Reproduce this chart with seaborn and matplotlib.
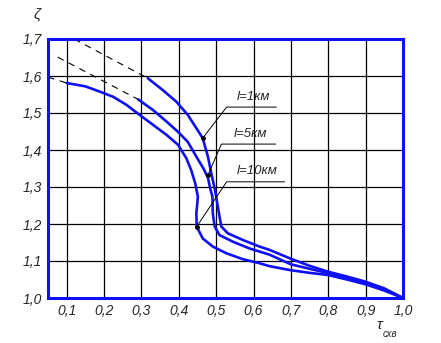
import numpy as np
import pandas as pd
import matplotlib
matplotlib.use("Agg")
import matplotlib.pyplot as plt
import seaborn as sns

# Relative radiation curves, zeta vs tau_схв, for three line lengths
labels = ["l=1км", "l=5км", "l=10км"]

tau_1 = [0.317, 0.357, 0.393, 0.424, 0.447, 0.464, 0.478, 0.487, 0.496, 0.500,
         0.509, 0.514, 0.531, 0.571, 0.616, 0.643, 0.700, 0.750, 0.800, 0.850,
         0.900, 0.950, 1.000]
zeta_1 = [1.594, 1.562, 1.531, 1.495, 1.459, 1.432, 1.382, 1.337, 1.296, 1.274,
          1.220, 1.193, 1.175, 1.157, 1.139, 1.130, 1.106, 1.087, 1.071, 1.058,
          1.044, 1.026, 1.000]

tau_5 = [0.291, 0.331, 0.367, 0.398, 0.424, 0.447, 0.466, 0.478, 0.484, 0.490,
         0.491, 0.496, 0.509, 0.545, 0.589, 0.643, 0.700, 0.750, 0.800, 0.850,
         0.900, 0.950, 1.000]
zeta_5 = [1.537, 1.508, 1.477, 1.449, 1.422, 1.382, 1.350, 1.325, 1.296, 1.274,
          1.229, 1.193, 1.170, 1.152, 1.134, 1.117, 1.091, 1.079, 1.067, 1.054,
          1.040, 1.023, 1.000]

tau_10 = [0.100, 0.150, 0.188, 0.224, 0.260, 0.295, 0.331, 0.367, 0.398, 0.420,
          0.433, 0.444, 0.451, 0.449, 0.447, 0.448, 0.464, 0.491, 0.527, 0.571,
          0.616, 0.643, 0.700, 0.750, 0.800, 0.850, 0.900, 0.950, 1.000]
zeta_10 = [1.581, 1.572, 1.558, 1.544, 1.522, 1.495, 1.468, 1.441, 1.414, 1.378,
           1.346, 1.310, 1.274, 1.250, 1.229, 1.193, 1.161, 1.139, 1.121, 1.105,
           1.094, 1.086, 1.075, 1.068, 1.062, 1.050, 1.037, 1.020, 1.000]

# Dashed extrapolations toward small tau
dash_tau = [[0.120, 0.317], [0.076, 0.291], [0.050, 0.100]]
dash_zeta = [[1.700, 1.594], [1.651, 1.537], [1.597, 1.581]]

# Callout anchors on each curve and label shelves
anchor_tau = [0.464, 0.478, 0.448]
anchor_zeta = [1.432, 1.332, 1.193]
shelf_tau0 = [0.528, 0.514, 0.528]
shelf_tau1 = [0.661, 0.659, 0.683]
shelf_zeta = [1.516, 1.416, 1.314]

x_ticks = [0.1, 0.2, 0.3, 0.4, 0.5, 0.6, 0.7, 0.8, 0.9, 1.0]
y_ticks = [1.0, 1.1, 1.2, 1.3, 1.4, 1.5, 1.6, 1.7]

sns.set_style("white")
plt.rcParams["font.family"] = ["Liberation Sans", "DejaVu Sans"]

BLUE = "#1010f5"

df = pd.concat([
    pd.DataFrame({"tau": tau_1, "zeta": zeta_1, "curve": labels[0]}),
    pd.DataFrame({"tau": tau_5, "zeta": zeta_5, "curve": labels[1]}),
    pd.DataFrame({"tau": tau_10, "zeta": zeta_10, "curve": labels[2]}),
], ignore_index=True)

fig = plt.figure(figsize=(4.41, 3.43), dpi=100)
ax = fig.add_axes([48 / 441, 45 / 343, 355 / 441, 259 / 343])

sns.lineplot(data=df, x="tau", y="zeta", hue="curve", sort=False, estimator=None,
             palette=[BLUE] * 3, linewidth=1.9, legend=False, ax=ax, zorder=3,
             solid_joinstyle="round")

for dt, dz in zip(dash_tau, dash_zeta):
    ax.plot(dt, dz, color="black", linewidth=0.8, linestyle=(0, (6, 5)), zorder=2)

for i, lab in enumerate(labels):
    ax.plot([anchor_tau[i], shelf_tau0[i], shelf_tau1[i]],
            [anchor_zeta[i], shelf_zeta[i], shelf_zeta[i]],
            color="black", linewidth=0.7, zorder=4)
    ax.plot(anchor_tau[i], anchor_zeta[i], "o", color="black", markersize=2.5, zorder=5)
    ax.text((shelf_tau0[i] + shelf_tau1[i]) / 2 + 0.005, shelf_zeta[i] + 0.012, lab,
            ha="center", va="bottom", fontsize=9.5, style="italic", zorder=5)

ax.set_xlim(0.05, 1.0)
ax.set_ylim(1.0, 1.7)
ax.set_xticks(x_ticks)
ax.set_yticks(y_ticks)
ax.set_xticklabels([f"{v:.1f}".replace(".", ",") for v in x_ticks],
                   fontsize=10, style="italic")
ax.set_yticklabels([f"{v:.1f}".replace(".", ",") for v in y_ticks],
                   fontsize=10, style="italic")
ax.tick_params(length=0, pad=4)
ax.grid(True, color="black", linewidth=0.9)
ax.set_axisbelow(True)
for s in ax.spines.values():
    s.set_color(BLUE)
    s.set_linewidth(2.2)
    s.set_visible(True)
ax.set_xlabel("")
ax.set_ylabel("")

fig.text(37 / 441, 1 - 15 / 343, "ζ", fontsize=11, style="italic", ha="center", va="center")
fig.text(379 / 441, 1 - 325 / 343, "τ", fontsize=11, style="italic", ha="center", va="center")
fig.text(383 / 441, 1 - 334 / 343, "схв", fontsize=7, style="italic", ha="left", va="center")

fig.savefig("out.png", dpi=100)
